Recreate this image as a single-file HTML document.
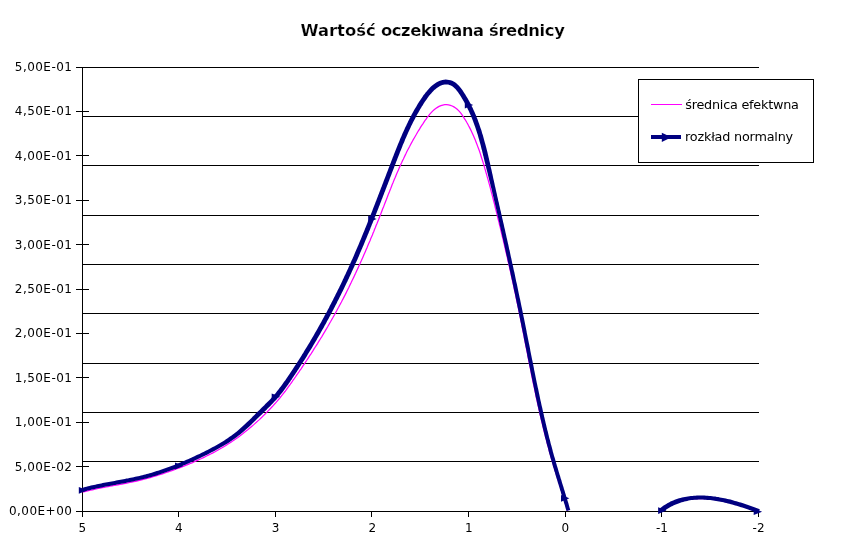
<!DOCTYPE html>
<html lang="pl"><head><meta charset="utf-8"><title>Wartość oczekiwana średnicy</title>
<style>
html,body{margin:0;padding:0;background:#fff;}
body{width:867px;height:548px;overflow:hidden;}
svg{display:block;}
text{font-family:"DejaVu Sans","Liberation Sans",sans-serif;fill:#000;}
.ax{font-size:12px;}
.t{font-size:16.4px;font-weight:bold;stroke:#fff;stroke-width:0.22px;paint-order:fill stroke;}
.lg{font-size:12.8px;}
</style></head><body>
<svg width="867" height="548" viewBox="0 0 867 548">
<rect x="0" y="0" width="867" height="548" fill="#fff"/>
<g fill="#000" shape-rendering="crispEdges">
<rect x="82" y="67" width="677" height="1"/>
<rect x="82" y="116" width="677" height="1"/>
<rect x="82" y="165" width="677" height="1"/>
<rect x="82" y="215" width="677" height="1"/>
<rect x="82" y="264" width="677" height="1"/>
<rect x="82" y="313" width="677" height="1"/>
<rect x="82" y="363" width="677" height="1"/>
<rect x="82" y="412" width="677" height="1"/>
<rect x="82" y="461" width="677" height="1"/>
<rect x="82" y="67" width="1" height="445"/>
<rect x="82" y="511" width="677" height="1"/>
<rect x="76" y="67" width="13" height="1"/>
<rect x="76" y="111" width="13" height="1"/>
<rect x="76" y="155" width="13" height="1"/>
<rect x="76" y="200" width="13" height="1"/>
<rect x="76" y="244" width="13" height="1"/>
<rect x="76" y="289" width="13" height="1"/>
<rect x="76" y="333" width="13" height="1"/>
<rect x="76" y="377" width="13" height="1"/>
<rect x="76" y="422" width="13" height="1"/>
<rect x="76" y="466" width="13" height="1"/>
<rect x="76" y="511" width="13" height="1"/>
<rect x="82" y="511" width="1" height="6"/>
<rect x="178" y="511" width="1" height="6"/>
<rect x="275" y="511" width="1" height="6"/>
<rect x="371" y="511" width="1" height="6"/>
<rect x="468" y="511" width="1" height="6"/>
<rect x="565" y="511" width="1" height="6"/>
<rect x="661" y="511" width="1" height="6"/>
<rect x="758" y="511" width="1" height="6"/>
</g>
<text class="t" y="36"><tspan x="300.4" letter-spacing="0.02">Wartość</tspan> <tspan x="381" letter-spacing="-0.44">oczekiwana</tspan> <tspan x="489" letter-spacing="-0.36">średnicy</tspan></text>
<text class="ax" x="14.8" y="71" textLength="57.1" lengthAdjust="spacing">5,00E-01</text>
<text class="ax" x="14.8" y="115" textLength="57.1" lengthAdjust="spacing">4,50E-01</text>
<text class="ax" x="14.8" y="160" textLength="57.1" lengthAdjust="spacing">4,00E-01</text>
<text class="ax" x="14.8" y="204" textLength="57.1" lengthAdjust="spacing">3,50E-01</text>
<text class="ax" x="14.8" y="249" textLength="57.1" lengthAdjust="spacing">3,00E-01</text>
<text class="ax" x="14.8" y="293" textLength="57.1" lengthAdjust="spacing">2,50E-01</text>
<text class="ax" x="14.8" y="337" textLength="57.1" lengthAdjust="spacing">2,00E-01</text>
<text class="ax" x="14.8" y="382" textLength="57.1" lengthAdjust="spacing">1,50E-01</text>
<text class="ax" x="14.8" y="426" textLength="57.1" lengthAdjust="spacing">1,00E-01</text>
<text class="ax" x="14.8" y="471" textLength="57.1" lengthAdjust="spacing">5,00E-02</text>
<text class="ax" x="8.9" y="515" textLength="63.0" lengthAdjust="spacing">0,00E+00</text>
<text class="ax" x="82.3" y="532" text-anchor="middle">5</text>
<text class="ax" x="178.9" y="532" text-anchor="middle">4</text>
<text class="ax" x="275.5" y="532" text-anchor="middle">3</text>
<text class="ax" x="372.2" y="532" text-anchor="middle">2</text>
<text class="ax" x="468.8" y="532" text-anchor="middle">1</text>
<text class="ax" x="565.4" y="532" text-anchor="middle">0</text>
<text class="ax" x="662.0" y="532" text-anchor="middle">-1</text>
<text class="ax" x="758.6" y="532" text-anchor="middle">-2</text>
<polyline points="82.7,492.2 84.6,491.7 86.6,491.2 88.5,490.7 90.4,490.2 92.4,489.8 94.3,489.3 96.3,488.9 98.2,488.5 100.2,488.1 102.2,487.7 104.1,487.3 106.1,487.0 108.1,486.6 110.0,486.2 112.0,485.9 114.0,485.5 116.0,485.2 117.9,484.8 119.9,484.4 121.9,484.1 123.9,483.7 125.8,483.3 127.8,482.9 129.7,482.5 131.7,482.1 133.7,481.7 135.6,481.3 137.5,480.8 139.5,480.4 141.4,479.9 143.4,479.4 145.3,478.9 147.2,478.4 149.1,477.8 151.1,477.3 153.0,476.7 154.9,476.2 156.8,475.6 158.7,475.0 160.6,474.4 162.5,473.8 164.4,473.2 166.3,472.5 168.2,471.9 170.1,471.2 171.9,470.6 173.8,469.9 175.7,469.2 177.6,468.5 179.4,467.8 181.3,467.1 183.2,466.4 185.0,465.6 186.9,464.9 188.8,464.1 190.6,463.3 192.5,462.6 194.3,461.8 196.1,460.9 198.0,460.1 199.8,459.3 201.6,458.5 203.4,457.6 205.2,456.7 207.0,455.8 208.8,454.9 210.6,454.0 212.4,453.1 214.2,452.2 215.9,451.2 217.7,450.2 219.4,449.3 221.1,448.3 222.9,447.2 224.6,446.2 226.3,445.2 228.0,444.1 229.7,443.0 231.3,441.9 233.0,440.8 234.6,439.7 236.3,438.5 237.9,437.4 239.5,436.2 241.1,435.0 242.7,433.8 244.2,432.6 245.8,431.3 247.4,430.1 248.9,428.8 250.4,427.5 251.9,426.2 253.5,424.9 254.9,423.6 256.4,422.3 257.9,420.9 259.4,419.6 260.8,418.2 262.3,416.8 263.7,415.4 265.1,414.0 266.5,412.6 267.9,411.1 269.3,409.7 270.7,408.3 272.1,406.8 273.4,405.3 274.8,403.8 276.1,402.3 277.4,400.8 278.7,399.3 280.0,397.8 281.3,396.2 282.5,394.7 283.7,393.1 285.0,391.5 286.2,389.9 287.3,388.3 288.5,386.7 289.7,385.1 290.8,383.5 292.0,381.9 293.1,380.2 294.3,378.6 295.4,377.0 296.5,375.3 297.7,373.7 298.8,372.1 299.9,370.4 301.1,368.8 302.2,367.1 303.3,365.4 304.4,363.8 305.5,362.1 306.6,360.5 307.7,358.8 308.8,357.1 309.9,355.4 311.0,353.8 312.1,352.1 313.2,350.4 314.2,348.7 315.3,347.0 316.4,345.3 317.5,343.6 318.5,341.9 319.6,340.2 320.6,338.5 321.7,336.8 322.7,335.1 323.7,333.4 324.8,331.6 325.8,329.9 326.8,328.2 327.8,326.5 328.8,324.7 329.8,323.0 330.8,321.3 331.8,319.5 332.8,317.8 333.8,316.0 334.8,314.3 335.7,312.5 336.7,310.8 337.6,309.0 338.6,307.3 339.5,305.5 340.5,303.7 341.4,302.0 342.3,300.2 343.3,298.4 344.2,296.6 345.1,294.9 346.0,293.1 346.9,291.3 347.8,289.5 348.7,287.7 349.5,285.9 350.4,284.1 351.3,282.3 352.1,280.5 353.0,278.7 353.9,276.9 354.7,275.1 355.6,273.3 356.4,271.5 357.2,269.7 358.1,267.9 358.9,266.1 359.7,264.2 360.5,262.4 361.4,260.6 362.2,258.8 363.0,256.9 363.8,255.1 364.6,253.3 365.4,251.4 366.2,249.6 367.0,247.8 367.7,245.9 368.5,244.1 369.3,242.2 370.1,240.4 370.8,238.6 371.6,236.7 372.4,234.9 373.1,233.0 373.9,231.2 374.6,229.3 375.4,227.4 376.1,225.6 376.9,223.7 377.6,221.9 378.4,220.0 379.1,218.2 379.8,216.3 380.6,214.4 381.3,212.6 382.0,210.7 382.7,208.8 383.5,207.0 384.2,205.1 384.9,203.2 385.6,201.4 386.4,199.5 387.1,197.6 387.8,195.8 388.5,193.9 389.3,192.0 390.0,190.2 390.8,188.3 391.5,186.5 392.2,184.6 393.0,182.8 393.7,180.9 394.5,179.1 395.3,177.2 396.0,175.4 396.8,173.5 397.6,171.7 398.4,169.9 399.2,168.0 400.0,166.2 400.8,164.4 401.7,162.6 402.5,160.8 403.4,159.0 404.2,157.2 405.1,155.4 406.0,153.6 406.8,151.8 407.7,150.0 408.7,148.2 409.6,146.5 410.5,144.7 411.5,142.9 412.4,141.2 413.4,139.4 414.4,137.7 415.4,136.0 416.4,134.3 417.4,132.5 418.4,130.8 419.5,129.1 420.5,127.4 421.6,125.7 422.7,124.1 423.8,122.4 424.9,120.7 426.1,119.1 427.2,117.4 428.5,115.8 429.8,114.2 431.2,112.6 432.6,111.1 434.1,109.8 435.7,108.5 437.4,107.4 439.1,106.4 440.9,105.6 442.8,105.1 444.7,104.7 446.6,104.7 448.5,104.9 450.4,105.3 452.2,106.0 453.9,106.9 455.6,107.9 457.2,109.2 458.6,110.6 460.0,112.1 461.2,113.7 462.4,115.4 463.5,117.1 464.6,118.8 465.7,120.5 466.7,122.3 467.7,124.0 468.6,125.8 469.6,127.6 470.5,129.4 471.4,131.2 472.2,133.0 473.0,134.8 473.8,136.6 474.6,138.5 475.4,140.3 476.1,142.2 476.8,144.0 477.5,145.9 478.2,147.8 478.9,149.6 479.6,151.5 480.2,153.4 480.8,155.3 481.4,157.2 482.0,159.1 482.6,161.0 483.2,162.9 483.8,164.8 484.4,166.8 484.9,168.7 485.5,170.6 486.0,172.5 486.6,174.4 487.1,176.4 487.7,178.3 488.2,180.2 488.7,182.1 489.3,184.1 489.8,186.0 490.3,187.9 490.8,189.9 491.3,191.8 491.8,193.7 492.3,195.7 492.8,197.6 493.3,199.5 493.8,201.5 494.3,203.4 494.8,205.4 495.2,207.3 495.7,209.2 496.2,211.2 496.7,213.1 497.2,215.1 497.6,217.0 498.1,219.0 498.6,220.9 499.1,222.8 499.5,224.8 500.0,226.7 500.5,228.7 500.9,230.6 501.4,232.6 501.9,234.5 502.3,236.5 502.8,238.4 503.3,240.3 503.7,242.3 504.2,244.2 504.6,246.2 505.1,248.1 505.5,250.1 506.0,252.0 506.5,254.0 506.9,255.9 507.4,257.9 507.8,259.8 508.2,261.8 508.7,263.7 509.1,265.7 509.6,267.6 510.0,269.6 510.5,271.5 510.9,273.5 511.3,275.4 511.8,277.4 512.2,279.3 512.6,281.3 513.0,283.2 513.5,285.2 513.9,287.1 514.3,289.1 514.7,291.0 515.2,293.0 515.6,294.9 516.0,296.9 516.4,298.8 516.8,300.8 517.2,302.8 517.7,304.7 518.1,306.7 518.5,308.6 518.9,310.6 519.3,312.5 519.7,314.5 520.1,316.5 520.5,318.4 520.9,320.4 521.3,322.4 521.7,324.3 522.0,326.3 522.4,328.2 522.8,330.2 523.2,332.2 523.6,334.1 524.0,336.1 524.4,338.1 524.8,340.0 525.1,342.0 525.5,343.9 525.9,345.9 526.3,347.9 526.7,349.8 527.1,351.8 527.5,353.8 527.8,355.7 528.2,357.7 528.6,359.7 529.0,361.6 529.4,363.6 529.8,365.5 530.2,367.5 530.6,369.5 531.0,371.4 531.3,373.4 531.7,375.4 532.1,377.3 532.5,379.3 532.9,381.2 533.3,383.2 533.7,385.2 534.2,387.1 534.6,389.1 535.0,391.0 535.4,393.0 535.8,395.0 536.2,396.9 536.6,398.9 537.1,400.8 537.5,402.8 537.9,404.7 538.4,406.7 538.8,408.6 539.2,410.6 539.7,412.5 540.1,414.5 540.6,416.4 541.0,418.4 541.5,420.3 541.9,422.3 542.4,424.2 542.9,426.1 543.4,428.1 543.8,430.0 544.3,432.0 544.8,433.9 545.3,435.8 545.8,437.8 546.3,439.7 546.8,441.6 547.3,443.6 547.8,445.5 548.4,447.4 548.9,449.4 549.4,451.3 550.0,453.2 550.5,455.1 551.1,457.1 551.6,459.0 552.2,460.9 552.8,462.8 553.3,464.7 553.9,466.6 554.5,468.5 555.1,470.5 555.7,472.4 556.3,474.3 556.9,476.2 557.5,478.1 558.1,480.0 558.7,481.9 559.3,483.8 559.9,485.7 560.5,487.6 561.1,489.5 561.7,491.4 562.3,493.4 562.9,495.3 563.5,497.2 564.1,499.1 564.7,501.0 565.3,502.9 565.8,504.8 566.4,506.7 566.9,508.7 567.5,510.6 567.5,510.6" fill="none" stroke="#ff00ff" stroke-width="1.25"/>
<polyline points="661.2,510.4 662.9,509.1 664.5,507.9 666.2,506.8 668.0,505.7 669.7,504.7 671.5,503.8 673.3,503.0 675.1,502.2 676.9,501.5 678.8,500.8 680.6,500.2 682.5,499.7 684.4,499.3 686.3,498.9 688.2,498.5 690.2,498.2 692.1,498.0 694.1,497.8 696.0,497.7 698.0,497.6 700.0,497.6 702.0,497.6 703.9,497.6 705.9,497.7 707.9,497.9 709.9,498.0 711.9,498.3 714.0,498.5 716.0,498.8 718.0,499.1 720.0,499.5 722.0,499.9 724.0,500.3 726.0,500.8 727.9,501.2 729.9,501.7 731.9,502.3 733.9,502.8 735.8,503.4 737.8,503.9 739.7,504.5 741.6,505.1 743.6,505.8 745.5,506.4 747.4,507.0 749.2,507.7 751.1,508.4 752.9,509.0 754.8,509.7 756.6,510.4 758.4,511.1 759.0,511.3" fill="none" stroke="#ff00ff" stroke-width="1.25" transform="translate(0,1)"/>
<polygon fill="#000080" points="83.2,491.8 84.7,491.4 86.1,491.0 87.5,490.6 89.0,490.3 90.4,489.9 91.9,489.6 93.3,489.3 94.8,488.9 96.2,488.6 97.7,488.3 99.1,488.0 100.6,487.7 102.1,487.4 103.5,487.1 105.0,486.8 106.5,486.5 107.9,486.2 109.4,486.0 110.9,485.7 112.4,485.4 113.8,485.1 115.3,484.9 116.8,484.6 118.3,484.3 119.8,484.0 121.2,483.8 122.7,483.5 124.2,483.2 125.7,482.9 127.2,482.6 128.6,482.3 130.1,482.0 131.6,481.7 133.1,481.4 134.6,481.1 136.0,480.8 137.5,480.5 139.0,480.1 140.5,479.8 141.9,479.5 143.4,479.1 144.9,478.7 146.3,478.4 147.8,478.0 149.2,477.6 150.7,477.2 152.1,476.8 153.6,476.3 155.0,475.9 156.5,475.5 157.9,475.0 159.4,474.5 160.8,474.1 162.2,473.6 163.6,473.1 165.1,472.6 166.5,472.1 167.9,471.6 169.3,471.1 170.7,470.6 172.1,470.1 173.6,469.5 175.0,469.0 176.4,468.4 177.8,467.9 179.2,467.3 180.6,466.7 181.9,466.2 183.3,465.6 184.7,465.0 186.1,464.4 187.5,463.8 188.9,463.2 190.3,462.6 191.6,462.0 193.0,461.3 194.4,460.7 195.7,460.1 197.1,459.4 198.5,458.8 199.8,458.2 201.2,457.5 202.6,456.8 203.9,456.2 205.3,455.5 206.6,454.9 208.0,454.2 209.3,453.5 210.7,452.8 212.0,452.1 213.4,451.4 214.7,450.7 216.0,450.0 217.4,449.3 218.7,448.5 220.0,447.8 221.3,447.1 222.7,446.3 224.0,445.5 225.3,444.8 226.6,444.0 227.8,443.2 229.1,442.4 230.4,441.5 231.6,440.7 232.9,439.8 234.1,439.0 235.4,438.1 236.6,437.2 237.8,436.3 239.0,435.3 240.2,434.4 241.3,433.4 242.5,432.5 243.7,431.5 244.8,430.5 245.9,429.5 247.1,428.5 248.2,427.5 249.3,426.4 250.4,425.4 251.5,424.4 252.6,423.3 253.7,422.3 254.7,421.2 255.8,420.2 256.9,419.1 258.0,418.1 259.0,417.0 260.1,416.0 261.2,414.9 262.3,413.9 263.3,412.8 264.4,411.8 265.5,410.7 266.6,409.7 267.6,408.6 268.7,407.6 269.8,406.5 270.8,405.4 271.9,404.3 273.0,403.2 274.0,402.1 275.0,401.0 276.1,399.9 277.1,398.8 278.1,397.6 279.1,396.5 280.0,395.3 281.0,394.1 281.9,392.9 282.9,391.7 283.8,390.5 284.7,389.3 285.6,388.1 286.5,386.8 287.4,385.6 288.2,384.4 289.1,383.1 290.0,381.9 290.8,380.6 291.7,379.4 292.5,378.1 293.3,376.9 294.2,375.6 295.0,374.4 295.9,373.1 296.7,371.9 297.5,370.6 298.3,369.4 299.2,368.1 300.0,366.8 300.8,365.6 301.6,364.3 302.4,363.0 303.2,361.8 304.1,360.5 304.9,359.2 305.7,358.0 306.5,356.7 307.2,355.4 308.0,354.1 308.8,352.8 309.6,351.6 310.4,350.3 311.2,349.0 312.0,347.7 312.7,346.4 313.5,345.1 314.3,343.8 315.0,342.5 315.8,341.2 316.6,339.9 317.3,338.6 318.1,337.3 318.8,336.0 319.6,334.7 320.3,333.4 321.1,332.1 321.8,330.8 322.5,329.5 323.3,328.2 324.0,326.9 324.7,325.5 325.5,324.2 326.2,322.9 326.9,321.6 327.6,320.3 328.4,318.9 329.1,317.6 329.8,316.3 330.5,315.0 331.2,313.6 331.9,312.3 332.6,311.0 333.3,309.7 334.0,308.3 334.7,307.0 335.4,305.6 336.1,304.3 336.8,303.0 337.4,301.6 338.1,300.3 338.8,298.9 339.5,297.6 340.1,296.3 340.8,294.9 341.5,293.6 342.1,292.2 342.8,290.9 343.5,289.5 344.1,288.2 344.8,286.8 345.4,285.4 346.1,284.1 346.7,282.7 347.4,281.4 348.0,280.0 348.7,278.7 349.3,277.3 349.9,275.9 350.6,274.6 351.2,273.2 351.8,271.8 352.4,270.5 353.1,269.1 353.7,267.7 354.3,266.4 354.9,265.0 355.5,263.6 356.1,262.2 356.7,260.9 357.4,259.5 358.0,258.1 358.6,256.7 359.2,255.3 359.7,254.0 360.3,252.6 360.9,251.2 361.5,249.8 362.1,248.4 362.7,247.0 363.3,245.7 363.9,244.3 364.4,242.9 365.0,241.5 365.6,240.1 366.2,238.7 366.8,237.3 367.3,235.9 367.9,234.6 368.5,233.2 369.0,231.8 369.6,230.4 370.2,229.0 370.7,227.6 371.3,226.2 371.8,224.8 372.4,223.4 373.0,222.0 373.5,220.6 374.1,219.2 374.6,217.8 375.2,216.4 375.7,215.0 376.3,213.6 376.8,212.2 377.4,210.8 377.9,209.4 378.5,208.0 379.0,206.6 379.6,205.2 380.1,203.8 380.6,202.4 381.2,201.0 381.7,199.6 382.3,198.2 382.8,196.8 383.3,195.4 383.9,194.0 384.4,192.6 385.0,191.2 385.5,189.8 386.0,188.4 386.6,187.0 387.1,185.6 387.7,184.2 388.2,182.8 388.7,181.4 389.3,180.0 389.8,178.6 390.3,177.2 390.9,175.8 391.4,174.4 391.9,173.0 392.5,171.6 393.0,170.2 393.6,168.8 394.1,167.4 394.6,166.0 395.2,164.6 395.7,163.2 396.2,161.8 396.8,160.4 397.3,159.0 397.9,157.6 398.4,156.2 399.0,154.8 399.5,153.4 400.0,152.0 400.6,150.7 401.2,149.3 401.7,147.9 402.3,146.5 402.8,145.1 403.4,143.8 404.0,142.4 404.6,141.0 405.1,139.6 405.7,138.3 406.3,136.9 406.9,135.5 407.5,134.2 408.1,132.8 408.7,131.5 409.4,130.1 410.0,128.8 410.6,127.5 411.2,126.1 411.9,124.8 412.5,123.5 413.2,122.1 413.9,120.8 414.6,119.5 415.2,118.2 415.9,116.9 416.6,115.6 417.3,114.3 418.1,113.0 418.8,111.7 419.5,110.4 420.3,109.1 421.0,107.9 421.8,106.6 422.6,105.4 423.4,104.1 424.2,102.8 425.0,101.6 425.8,100.4 426.7,99.2 427.5,98.0 428.4,96.8 429.3,95.6 430.2,94.5 431.2,93.4 432.2,92.3 433.2,91.2 434.3,90.1 435.4,89.2 436.5,88.2 437.6,87.4 438.8,86.7 439.9,86.0 441.1,85.4 442.3,85.0 443.4,84.7 444.6,84.5 445.8,84.4 447.0,84.4 448.2,84.6 449.3,84.9 450.3,85.2 451.4,85.7 452.3,86.3 453.3,87.0 454.3,87.9 455.2,88.8 456.1,89.8 457.0,90.9 457.9,92.1 458.7,93.3 459.6,94.5 460.4,95.8 461.2,97.1 462.0,98.4 462.8,99.7 463.5,101.0 464.3,102.3 465.0,103.6 465.7,104.9 466.4,106.2 467.1,107.5 467.7,108.9 468.4,110.2 469.0,111.5 469.6,112.9 470.2,114.2 470.8,115.6 471.4,116.9 471.9,118.3 472.5,119.7 473.0,121.1 473.5,122.4 474.0,123.8 474.5,125.2 475.0,126.6 475.5,128.0 476.0,129.4 476.4,130.8 476.9,132.2 477.3,133.6 477.8,135.1 478.2,136.5 478.6,137.9 479.0,139.3 479.4,140.7 479.8,142.2 480.2,143.6 480.6,145.0 481.0,146.5 481.3,147.9 481.7,149.4 482.1,150.8 482.4,152.3 482.8,153.7 483.1,155.2 483.5,156.6 483.8,158.1 484.2,159.5 484.5,161.0 484.9,162.4 485.3,163.9 485.6,165.3 486.0,166.8 486.3,168.3 486.7,169.7 487.1,171.2 487.4,172.6 487.8,174.1 488.1,175.5 488.5,177.0 488.9,178.5 489.2,179.9 489.6,181.4 489.9,182.8 490.3,184.3 490.6,185.7 491.0,187.2 491.4,188.6 491.7,190.1 492.1,191.6 492.4,193.0 492.8,194.5 493.1,195.9 493.5,197.4 493.8,198.9 494.1,200.3 494.5,201.8 494.8,203.2 495.2,204.7 495.5,206.2 495.8,207.6 496.2,209.1 496.5,210.5 496.8,212.0 497.2,213.5 497.5,214.9 497.8,216.4 498.2,217.8 498.5,219.3 498.8,220.8 499.2,222.2 499.5,223.7 499.8,225.2 500.1,226.6 500.5,228.1 500.8,229.5 501.1,231.0 501.5,232.5 501.8,233.9 502.1,235.4 502.4,236.9 502.8,238.3 503.1,239.8 503.4,241.2 503.8,242.7 504.1,244.2 504.4,245.6 504.7,247.1 505.0,248.6 505.4,250.0 505.7,251.5 506.0,252.9 506.3,254.4 506.7,255.9 507.0,257.3 507.3,258.8 507.6,260.3 507.9,261.7 508.3,263.2 508.6,264.7 508.9,266.1 509.2,267.6 509.5,269.1 509.9,270.5 510.2,272.0 510.5,273.4 510.8,274.9 511.1,276.4 511.4,277.8 511.7,279.3 512.1,280.8 512.4,282.2 512.7,283.7 513.0,285.2 513.3,286.6 513.6,288.1 513.9,289.6 514.2,291.0 514.6,292.5 514.9,294.0 515.2,295.4 515.5,296.9 515.8,298.4 516.1,299.8 516.4,301.3 516.7,302.8 517.0,304.2 517.3,305.7 517.6,307.2 517.9,308.6 518.2,310.1 518.5,311.6 518.8,313.1 519.1,314.5 519.4,316.0 519.7,317.5 520.0,318.9 520.3,320.4 520.6,321.9 520.9,323.3 521.2,324.8 521.5,326.3 521.8,327.7 522.1,329.2 522.4,330.7 522.7,332.2 523.0,333.6 523.3,335.1 523.6,336.6 523.8,338.0 524.1,339.5 524.4,341.0 524.7,342.5 525.0,343.9 525.3,345.4 525.6,346.9 525.9,348.3 526.2,349.8 526.5,351.3 526.8,352.8 527.1,354.2 527.3,355.7 527.6,357.2 527.9,358.7 528.2,360.1 528.5,361.6 528.8,363.1 529.1,364.5 529.4,366.0 529.7,367.5 530.0,369.0 530.3,370.4 530.6,371.9 530.9,373.4 531.2,374.9 531.5,376.3 531.8,377.8 532.1,379.3 532.4,380.7 532.7,382.2 533.0,383.7 533.3,385.1 533.6,386.6 533.9,388.1 534.2,389.6 534.5,391.0 534.8,392.5 535.1,394.0 535.4,395.4 535.7,396.9 536.1,398.4 536.4,399.8 536.7,401.3 537.0,402.8 537.3,404.2 537.6,405.7 538.0,407.2 538.3,408.6 538.6,410.1 539.0,411.6 539.3,413.0 539.6,414.5 539.9,416.0 540.3,417.4 540.6,418.9 541.0,420.4 541.3,421.8 541.7,423.3 542.0,424.7 542.3,426.2 542.7,427.7 543.0,429.1 543.4,430.6 543.8,432.0 544.1,433.5 544.5,435.0 544.8,436.4 545.2,437.9 545.6,439.3 546.0,440.8 546.3,442.2 546.7,443.7 547.1,445.2 547.5,446.6 547.9,448.1 548.3,449.5 548.6,451.0 549.0,452.4 549.4,453.9 549.8,455.3 550.2,456.8 550.6,458.2 551.1,459.7 551.5,461.1 551.9,462.5 552.3,464.0 552.7,465.4 553.1,466.9 553.6,468.3 554.0,469.8 554.4,471.2 554.9,472.6 555.3,474.1 555.7,475.5 556.2,477.0 556.6,478.4 557.1,479.8 557.5,481.3 557.9,482.7 558.4,484.1 558.8,485.6 559.3,487.0 559.7,488.4 560.1,489.9 560.6,491.3 561.0,492.7 561.4,494.2 561.9,495.6 562.3,497.0 562.8,498.5 563.2,499.9 563.6,501.3 564.0,502.8 564.5,504.2 564.9,505.6 565.3,507.1 565.7,508.5 566.2,509.9 566.5,511.1 570.3,510.1 569.9,508.8 569.5,507.4 569.1,506.0 568.7,504.5 568.3,503.1 567.8,501.6 567.4,500.2 567.0,498.8 566.5,497.3 566.1,495.9 565.7,494.4 565.2,493.0 564.8,491.6 564.3,490.1 563.9,488.7 563.5,487.3 563.0,485.8 562.6,484.4 562.1,483.0 561.7,481.5 561.3,480.1 560.8,478.7 560.4,477.2 560.0,475.8 559.5,474.4 559.1,472.9 558.6,471.5 558.2,470.1 557.8,468.6 557.4,467.2 556.9,465.8 556.5,464.3 556.1,462.9 555.7,461.5 555.3,460.0 554.9,458.6 554.4,457.1 554.0,455.7 553.6,454.3 553.2,452.8 552.8,451.4 552.5,449.9 552.1,448.5 551.7,447.0 551.3,445.6 550.9,444.2 550.5,442.7 550.2,441.3 549.8,439.8 549.4,438.4 549.0,436.9 548.7,435.5 548.3,434.0 548.0,432.6 547.6,431.1 547.2,429.7 546.9,428.2 546.5,426.7 546.2,425.3 545.8,423.8 545.5,422.4 545.2,420.9 544.8,419.5 544.5,418.0 544.1,416.5 543.8,415.1 543.5,413.6 543.1,412.2 542.8,410.7 542.5,409.2 542.2,407.8 541.8,406.3 541.5,404.9 541.2,403.4 540.9,401.9 540.5,400.5 540.2,399.0 539.9,397.5 539.6,396.1 539.3,394.6 539.0,393.2 538.7,391.7 538.4,390.2 538.1,388.8 537.7,387.3 537.4,385.8 537.1,384.3 536.8,382.9 536.5,381.4 536.2,379.9 535.9,378.5 535.6,377.0 535.3,375.5 535.0,374.1 534.7,372.6 534.4,371.1 534.1,369.7 533.9,368.2 533.6,366.7 533.3,365.2 533.0,363.8 532.7,362.3 532.4,360.8 532.1,359.4 531.8,357.9 531.5,356.4 531.2,354.9 530.9,353.5 530.6,352.0 530.3,350.5 530.1,349.1 529.8,347.6 529.5,346.1 529.2,344.6 528.9,343.2 528.6,341.7 528.3,340.2 528.0,338.7 527.7,337.3 527.4,335.8 527.1,334.3 526.8,332.9 526.6,331.4 526.3,329.9 526.0,328.4 525.7,327.0 525.4,325.5 525.1,324.0 524.8,322.6 524.5,321.1 524.2,319.6 523.9,318.1 523.6,316.7 523.3,315.2 523.0,313.7 522.7,312.3 522.4,310.8 522.1,309.3 521.8,307.8 521.5,306.4 521.2,304.9 520.9,303.4 520.6,302.0 520.3,300.5 520.0,299.0 519.6,297.6 519.3,296.1 519.0,294.6 518.7,293.2 518.4,291.7 518.1,290.2 517.8,288.8 517.5,287.3 517.2,285.8 516.9,284.3 516.6,282.9 516.2,281.4 515.9,279.9 515.6,278.5 515.3,277.0 515.0,275.5 514.7,274.1 514.4,272.6 514.0,271.1 513.7,269.7 513.4,268.2 513.1,266.7 512.8,265.3 512.4,263.8 512.1,262.4 511.8,260.9 511.5,259.4 511.2,258.0 510.8,256.5 510.5,255.0 510.2,253.6 509.9,252.1 509.6,250.6 509.2,249.2 508.9,247.7 508.6,246.2 508.3,244.8 507.9,243.3 507.6,241.8 507.3,240.4 507.0,238.9 506.6,237.5 506.3,236.0 506.0,234.5 505.6,233.1 505.3,231.6 505.0,230.1 504.7,228.7 504.3,227.2 504.0,225.7 503.7,224.3 503.3,222.8 503.0,221.4 502.7,219.9 502.3,218.4 502.0,217.0 501.7,215.5 501.3,214.0 501.0,212.6 500.7,211.1 500.3,209.7 500.0,208.2 499.7,206.7 499.3,205.3 499.0,203.8 498.7,202.3 498.3,200.9 498.0,199.4 497.7,198.0 497.3,196.5 497.0,195.0 496.7,193.6 496.3,192.1 496.0,190.6 495.7,189.2 495.4,187.7 495.0,186.3 494.7,184.8 494.4,183.3 494.1,181.9 493.8,180.4 493.4,178.9 493.1,177.5 492.8,176.0 492.5,174.5 492.1,173.1 491.8,171.6 491.5,170.1 491.2,168.7 490.8,167.2 490.5,165.7 490.2,164.3 489.9,162.8 489.5,161.3 489.2,159.9 488.9,158.4 488.5,157.0 488.2,155.5 487.8,154.0 487.5,152.6 487.1,151.1 486.7,149.6 486.4,148.2 486.0,146.7 485.6,145.3 485.2,143.8 484.8,142.4 484.4,140.9 484.0,139.5 483.6,138.0 483.2,136.6 482.8,135.1 482.3,133.7 481.9,132.2 481.5,130.8 481.0,129.3 480.5,127.9 480.0,126.5 479.5,125.0 479.0,123.6 478.5,122.2 478.0,120.8 477.5,119.3 476.9,117.9 476.4,116.5 475.8,115.1 475.2,113.7 474.6,112.3 474.0,110.9 473.3,109.5 472.7,108.1 472.0,106.7 471.3,105.4 470.7,104.0 469.9,102.6 469.2,101.3 468.5,99.9 467.7,98.6 466.9,97.2 466.1,95.9 465.3,94.5 464.4,93.2 463.6,91.9 462.7,90.6 461.8,89.3 460.8,88.0 459.8,86.7 458.7,85.5 457.6,84.4 456.3,83.3 455.0,82.3 453.6,81.5 452.2,80.8 450.6,80.2 449.0,79.9 447.4,79.7 445.7,79.6 444.1,79.7 442.4,80.0 440.8,80.4 439.2,81.0 437.7,81.7 436.3,82.6 434.9,83.5 433.5,84.5 432.2,85.5 431.0,86.6 429.8,87.8 428.7,89.0 427.6,90.2 426.6,91.4 425.6,92.6 424.6,93.9 423.6,95.1 422.7,96.4 421.9,97.7 421.0,99.0 420.2,100.2 419.3,101.5 418.5,102.8 417.7,104.1 416.9,105.4 416.2,106.7 415.4,108.0 414.6,109.3 413.9,110.6 413.1,112.0 412.4,113.3 411.7,114.6 411.0,116.0 410.3,117.3 409.6,118.6 408.9,120.0 408.2,121.3 407.6,122.7 406.9,124.0 406.3,125.4 405.6,126.8 405.0,128.1 404.4,129.5 403.7,130.9 403.1,132.2 402.5,133.6 401.9,135.0 401.3,136.4 400.7,137.8 400.1,139.1 399.6,140.5 399.0,141.9 398.4,143.3 397.8,144.7 397.3,146.1 396.7,147.5 396.1,148.9 395.6,150.3 395.0,151.7 394.5,153.1 393.9,154.5 393.4,155.9 392.8,157.3 392.3,158.7 391.8,160.1 391.2,161.5 390.7,162.9 390.1,164.3 389.6,165.7 389.1,167.1 388.5,168.5 388.0,169.9 387.5,171.3 386.9,172.7 386.4,174.1 385.9,175.5 385.3,176.9 384.8,178.3 384.2,179.7 383.7,181.1 383.2,182.5 382.6,183.9 382.1,185.3 381.6,186.7 381.0,188.1 380.5,189.5 379.9,190.9 379.4,192.3 378.9,193.7 378.3,195.1 377.8,196.5 377.2,197.9 376.7,199.3 376.2,200.7 375.6,202.1 375.1,203.5 374.5,204.9 374.0,206.3 373.4,207.7 372.9,209.1 372.4,210.5 371.8,211.9 371.3,213.3 370.7,214.7 370.2,216.1 369.6,217.5 369.1,218.8 368.5,220.2 367.9,221.6 367.4,223.0 366.8,224.4 366.3,225.8 365.7,227.2 365.1,228.6 364.6,230.0 364.0,231.4 363.4,232.7 362.9,234.1 362.3,235.5 361.7,236.9 361.2,238.3 360.6,239.7 360.0,241.0 359.4,242.4 358.9,243.8 358.3,245.2 357.7,246.6 357.1,247.9 356.5,249.3 355.9,250.7 355.3,252.1 354.7,253.4 354.2,254.8 353.6,256.2 353.0,257.5 352.4,258.9 351.7,260.3 351.1,261.7 350.5,263.0 349.9,264.4 349.3,265.7 348.7,267.1 348.1,268.5 347.5,269.8 346.8,271.2 346.2,272.5 345.6,273.9 344.9,275.3 344.3,276.6 343.7,278.0 343.0,279.3 342.4,280.7 341.8,282.0 341.1,283.4 340.5,284.7 339.8,286.1 339.2,287.4 338.5,288.8 337.8,290.1 337.2,291.4 336.5,292.8 335.8,294.1 335.2,295.5 334.5,296.8 333.8,298.1 333.2,299.5 332.5,300.8 331.8,302.1 331.1,303.4 330.4,304.8 329.7,306.1 329.1,307.4 328.4,308.8 327.7,310.1 327.0,311.4 326.3,312.7 325.6,314.0 324.8,315.3 324.1,316.7 323.4,318.0 322.7,319.3 322.0,320.6 321.3,321.9 320.5,323.2 319.8,324.5 319.1,325.8 318.4,327.1 317.6,328.4 316.9,329.7 316.2,331.0 315.4,332.3 314.7,333.6 313.9,334.9 313.2,336.2 312.4,337.5 311.7,338.8 310.9,340.1 310.1,341.4 309.4,342.7 308.6,343.9 307.8,345.2 307.1,346.5 306.3,347.8 305.5,349.1 304.7,350.3 304.0,351.6 303.2,352.9 302.4,354.1 301.6,355.4 300.8,356.7 300.0,357.9 299.2,359.2 298.4,360.5 297.6,361.7 296.8,363.0 296.0,364.2 295.1,365.5 294.3,366.7 293.5,368.0 292.7,369.2 291.9,370.5 291.0,371.7 290.2,373.0 289.4,374.2 288.5,375.5 287.7,376.7 286.8,377.9 286.0,379.2 285.2,380.4 284.3,381.6 283.4,382.8 282.6,384.0 281.7,385.2 280.8,386.4 279.9,387.6 279.0,388.8 278.1,389.9 277.2,391.1 276.3,392.2 275.4,393.4 274.4,394.5 273.5,395.6 272.5,396.7 271.5,397.8 270.5,398.9 269.5,399.9 268.5,401.0 267.4,402.0 266.4,403.1 265.3,404.1 264.3,405.2 263.2,406.2 262.1,407.3 261.1,408.3 260.0,409.4 258.9,410.5 257.8,411.5 256.8,412.6 255.7,413.6 254.7,414.7 253.6,415.8 252.5,416.8 251.5,417.9 250.4,418.9 249.4,420.0 248.3,421.0 247.2,422.1 246.1,423.1 245.1,424.1 244.0,425.1 242.9,426.1 241.8,427.1 240.7,428.1 239.6,429.1 238.5,430.0 237.4,431.0 236.2,431.9 235.1,432.8 233.9,433.7 232.8,434.6 231.6,435.4 230.4,436.3 229.2,437.1 228.0,438.0 226.8,438.8 225.6,439.6 224.3,440.4 223.1,441.2 221.8,442.0 220.5,442.7 219.3,443.5 218.0,444.2 216.7,445.0 215.4,445.7 214.1,446.4 212.8,447.1 211.5,447.8 210.2,448.5 208.8,449.2 207.5,449.9 206.2,450.6 204.8,451.2 203.5,451.9 202.2,452.5 200.8,453.2 199.5,453.9 198.1,454.5 196.8,455.1 195.4,455.8 194.0,456.4 192.7,457.0 191.3,457.7 190.0,458.3 188.6,458.9 187.2,459.5 185.9,460.1 184.5,460.7 183.1,461.3 181.8,461.8 180.4,462.4 179.0,463.0 177.6,463.6 176.3,464.1 174.9,464.7 173.5,465.2 172.1,465.7 170.7,466.3 169.3,466.8 167.9,467.3 166.5,467.8 165.1,468.3 163.7,468.8 162.3,469.3 160.9,469.8 159.5,470.2 158.1,470.7 156.7,471.1 155.3,471.6 153.9,472.0 152.4,472.4 151.0,472.9 149.6,473.3 148.2,473.7 146.7,474.1 145.3,474.4 143.9,474.8 142.4,475.2 141.0,475.5 139.5,475.9 138.1,476.2 136.6,476.5 135.2,476.8 133.7,477.2 132.3,477.5 130.8,477.8 129.3,478.1 127.9,478.4 126.4,478.6 124.9,478.9 123.4,479.2 122.0,479.5 120.5,479.8 119.0,480.1 117.5,480.3 116.1,480.6 114.6,480.9 113.1,481.2 111.6,481.4 110.1,481.7 108.7,482.0 107.2,482.3 105.7,482.6 104.2,482.8 102.7,483.1 101.3,483.4 99.8,483.7 98.3,484.0 96.8,484.3 95.3,484.7 93.9,485.0 92.4,485.3 90.9,485.6 89.5,486.0 88.0,486.3 86.5,486.7 85.1,487.1 83.6,487.5 82.2,487.8"/>
<polygon fill="#000080" points="662.7,512.3 663.9,511.3 665.1,510.4 666.3,509.6 667.5,508.8 668.8,508.0 670.0,507.3 671.3,506.6 672.6,506.0 673.8,505.3 675.1,504.8 676.4,504.2 677.8,503.7 679.1,503.2 680.4,502.7 681.7,502.3 683.1,501.9 684.4,501.5 685.8,501.2 687.2,500.9 688.6,500.6 690.0,500.3 691.4,500.1 692.8,500.0 694.2,499.8 695.7,499.7 697.1,499.7 698.5,499.6 700.0,499.6 701.4,499.6 702.9,499.6 704.4,499.7 705.8,499.8 707.3,499.9 708.8,500.0 710.2,500.1 711.7,500.3 713.2,500.5 714.7,500.7 716.1,500.9 717.6,501.2 719.1,501.4 720.6,501.7 722.1,502.0 723.5,502.3 725.0,502.7 726.5,503.1 727.9,503.4 729.4,503.8 730.9,504.2 732.3,504.6 733.8,505.0 735.2,505.4 736.7,505.8 738.1,506.3 739.6,506.7 741.0,507.2 742.4,507.6 743.8,508.1 745.2,508.6 746.7,509.1 748.1,509.6 749.4,510.1 750.8,510.6 752.2,511.0 753.6,511.6 754.9,512.1 756.3,512.6 757.6,513.1 758.2,513.3 759.8,509.3 759.1,509.0 757.8,508.5 756.4,508.0 755.1,507.5 753.7,507.0 752.3,506.5 750.9,506.0 749.5,505.5 748.1,505.0 746.6,504.5 745.2,504.0 743.8,503.6 742.3,503.1 740.8,502.6 739.4,502.2 737.9,501.7 736.4,501.3 734.9,500.9 733.5,500.4 732.0,500.0 730.5,499.6 729.0,499.3 727.4,498.9 725.9,498.6 724.4,498.3 722.9,498.0 721.4,497.7 719.8,497.4 718.3,497.1 716.8,496.9 715.3,496.6 713.7,496.4 712.2,496.2 710.7,496.1 709.1,495.9 707.6,495.8 706.1,495.7 704.5,495.6 703.0,495.5 701.5,495.5 700.0,495.5 698.4,495.5 696.9,495.6 695.4,495.7 693.9,495.8 692.4,495.9 690.9,496.1 689.4,496.2 687.9,496.4 686.4,496.7 684.9,496.9 683.4,497.2 682.0,497.5 680.5,497.9 679.0,498.3 677.6,498.8 676.1,499.2 674.7,499.8 673.2,500.4 671.8,501.0 670.4,501.6 669.0,502.4 667.7,503.1 666.3,503.9 665.0,504.7 663.6,505.6 662.3,506.5 661.0,507.5 659.7,508.5"/>
<g fill="#000080">
<polygon points="78.8,486.9 78.8,493.7 87.2,490.3"/>
<polygon points="175.0,462.6 175.0,469.4 183.4,466.0"/>
<polygon points="271.7,393.4 271.7,400.2 280.1,396.8"/>
<polygon points="368.2,215.6 368.2,222.4 376.6,219.0"/>
<polygon points="464.8,101.6 464.8,108.4 473.2,105.0"/>
<polygon points="561.0,494.9 561.0,501.7 569.4,498.3"/>
<polygon points="658.1,507.2 658.1,514.0 666.5,510.6"/>
<polygon points="753.7,508.3 753.7,515.1 762.1,511.7"/>
</g>
<g shape-rendering="crispEdges"><rect x="638.5" y="79.5" width="175" height="83" fill="#fff" stroke="#000" stroke-width="1"/>
<rect x="651" y="104" width="31" height="1" fill="#ff00ff"/>
<rect x="651" y="135" width="30" height="4" fill="#000080"/></g>
<polygon points="661.8,132.7 671.5,137.3 661.8,141.9" fill="#000080"/>
<text class="lg" x="685.3" y="109" textLength="113.6" lengthAdjust="spacing">średnica efektwna</text>
<text class="lg" x="685" y="141" textLength="108.2" lengthAdjust="spacing">rozkład normalny</text>
</svg></body></html>
